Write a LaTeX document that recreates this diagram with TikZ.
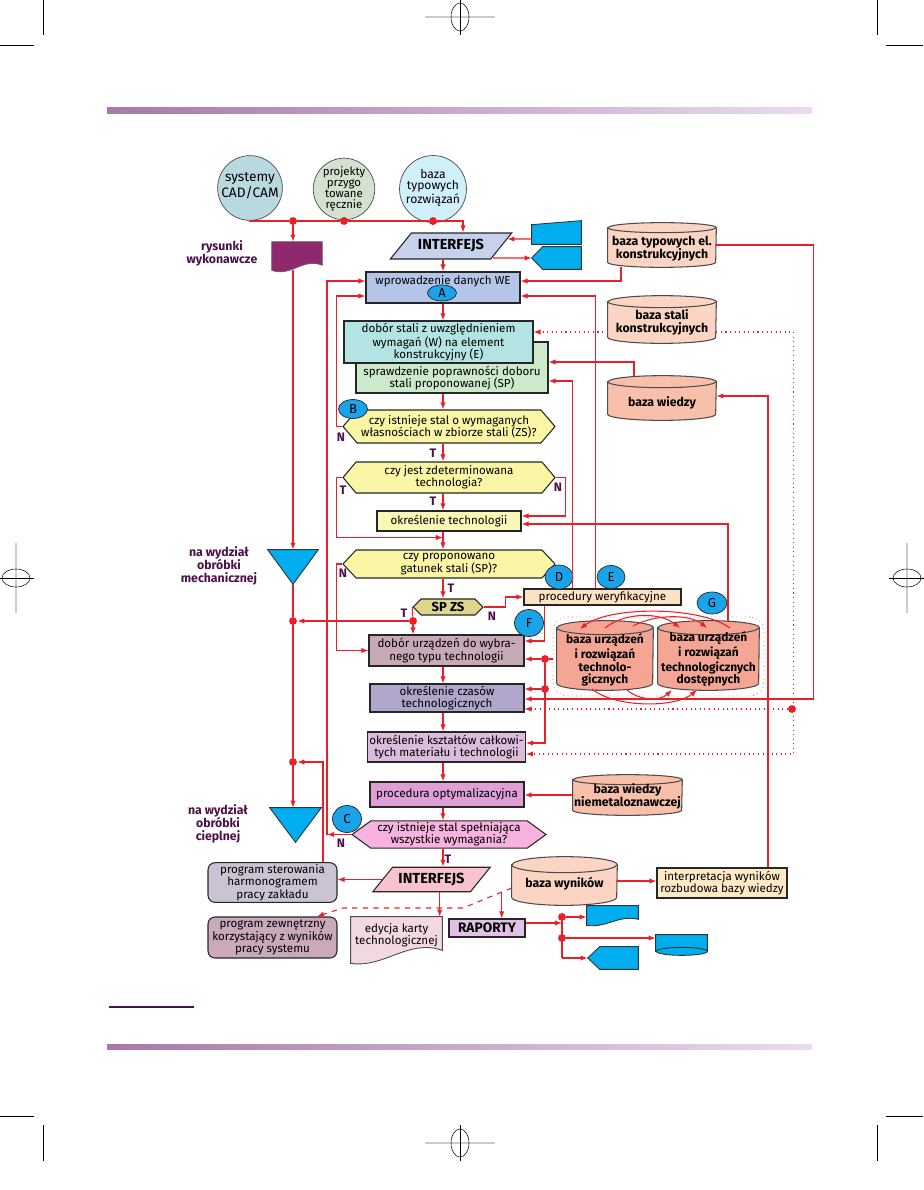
\documentclass[tikz,border=0pt]{standalone}
\usepackage{fontspec}
\setmainfont{Fira Sans}
\usetikzlibrary{shapes.geometric,shapes.symbols,arrows.meta,calc}

\definecolor{linered}{HTML}{E8202A}
\definecolor{labpurple}{HTML}{4B1048}
\definecolor{blueshape}{HTML}{00AEEF}
\definecolor{letterblue}{HTML}{1AA3E8}
\definecolor{cadfill}{HTML}{B9D9E1}
\definecolor{projfill}{HTML}{D2E2CE}
\definecolor{baztfill}{HTML}{CFEFF9}
\definecolor{intfill}{HTML}{C6D1EC}
\definecolor{wefill}{HTML}{B4C5E8}
\definecolor{dstfill}{HTML}{B3E4E3}
\definecolor{sprfill}{HTML}{CCE9CB}
\definecolor{yelfill}{HTML}{FBF6A6}
\definecolor{techfill}{HTML}{FBF7B5}
\definecolor{spzsfill}{HTML}{DCD68F}
\definecolor{procfill}{HTML}{FDE3C4}
\definecolor{urzfill}{HTML}{C8A9B8}
\definecolor{czasfill}{HTML}{B0A5CB}
\definecolor{kszfill}{HTML}{DBBDDB}
\definecolor{optfill}{HTML}{DE9ED6}
\definecolor{hexcfill}{HTML}{F8B2E0}
\definecolor{inttfill}{HTML}{F8C3CC}
\definecolor{sterfill}{HTML}{CBC2D3}
\definecolor{zewfill}{HTML}{C9A9BA}
\definecolor{edkfill}{HTML}{F2D8E2}
\definecolor{rapfill}{HTML}{E1C2E6}
\definecolor{interfill}{HTML}{FDE9C4}
\definecolor{dblight}{HTML}{FBD4C4}
\definecolor{dbmid}{HTML}{F8BFAB}
\definecolor{dbdark}{HTML}{F4A594}
\definecolor{rysfill}{HTML}{8F286C}
\definecolor{barleft}{HTML}{A878AA}
\definecolor{barright}{HTML}{EADCEE}

\newcommand{\txtfont}{\fontsize{6.6}{7}\selectfont}
\newcommand{\dbfont}{\fontsize{7}{7.4}\selectfont\bfseries}
\newcommand{\ynfont}{\fontsize{7}{8}\selectfont\bfseries}

\pgfdeclarelayer{background}
\pgfsetlayers{background,main}

% database drum behind a named node: node, fill, x radius, y radius
\newcommand{\drum}[4]{%
  \begin{pgfonlayer}{background}
    \draw[fill=#2, draw=black!70, line width=0.6pt] ($(#1.north west)+(0,#4)$) -- ($(#1.south west)+(0,-#4)$)
      arc[start angle=180, end angle=0, x radius=#3, y radius=#4] -- ($(#1.north east)+(0,#4)$)
      arc[start angle=0, end angle=-180, x radius=#3, y radius=#4] -- cycle;
    \draw[draw=black!70, line width=0.6pt] ($(#1.north west)+(0,#4)$) arc[start angle=180, end angle=0, x radius=#3, y radius=#4];
  \end{pgfonlayer}}

\tikzset{
  redline/.style={draw=linered, line width=0.6pt},
  arr/.style={redline, -{Latex[length=4pt,width=3pt]}},
  dotarr/.style={arr, dotted},
  dasharr/.style={arr, dashed},
  jdot/.style={circle, fill=linered, inner sep=0pt, minimum size=4.5pt},
  box/.style={rectangle, draw=black!85, line width=0.6pt, inner sep=1pt},
  rbox/.style={box, rounded corners=4pt},
  hexa/.style={signal, signal to=east and west, draw=black!85, line width=0.6pt, inner sep=1pt},
  para/.style={trapezium, trapezium stretches=true, draw=black!85, line width=0.6pt, font=\fontsize{8.3}{9}\selectfont\bfseries},
  db/.style={rectangle, inner sep=0pt, font=\dbfont, text depth=0.06cm},
  shapebox/.style={rectangle, inner sep=0pt},
  blueshp/.style={fill=blueshape, draw=black!80, line width=0.5pt},
  letter/.style={ellipse, draw=black!85, fill=letterblue, inner sep=0pt, font=\fontsize{7.4}{8}\selectfont},
  yn/.style={font=\ynfont, text=labpurple, inner sep=0pt},
  side/.style={font=\dbfont, text=labpurple},
  crop/.style={draw=black, line width=0.4pt},
}

\begin{document}
\begin{tikzpicture}[x=0.02cm, y=-0.02cm, font=\txtfont, every node/.append style={align=center}]
\useasboundingbox (0,0) rectangle (923,1190);

% page marks
\shade[left color=barleft, right color=barright] (107,107) rectangle (812,113);
\shade[left color=barleft, right color=barright] (107,1044) rectangle (812,1049);
\draw[labpurple, line width=0.8pt] (109,1007) -- (194,1007);
\draw[crop] (43.5,0) -- (43.5,35) (0,45) -- (34,45);
\draw[crop] (877,0) -- (877,35) (886,45) -- (923,45);
\draw[crop] (0,1116) -- (34,1116) (43.5,1125) -- (43.5,1161);
\draw[crop] (886,1116) -- (923,1116) (877,1125) -- (877,1161);
\foreach \cx/\cy in {460/17, 460/1143} {
  \draw[black!20, line width=1.5pt] (\cx-35,\cy) -- (\cx+35,\cy);
  \draw[crop, line width=0.3pt] (\cx,\cy-18) -- (\cx,\cy+18);
  \draw[crop, line width=0.3pt] (\cx,\cy) ellipse [x radius=9, y radius=14];
}
\foreach \cx/\cy in {16/578, 907/578} {
  \draw[black!20, line width=1.5pt] (\cx,\cy-35) -- (\cx,\cy+35);
  \draw[crop, line width=0.3pt] (\cx-18,\cy) -- (\cx+18,\cy);
  \draw[crop, line width=0.3pt] (\cx,\cy) ellipse [x radius=14, y radius=9];
}

% sources
\node[circle, draw=black!70, fill=cadfill, minimum size=1.24cm, inner sep=0pt, text depth=0.12cm, font=\fontsize{7.8}{8.6}\selectfont] (cad) at (250,188) {systemy\\CAD/CAM};
\node[circle, draw=black!70, fill=projfill, minimum size=1.2cm, inner sep=0pt, font=\fontsize{6.5}{6.3}\selectfont] (proj) at (344,189) {projekty\\przygo\\towane\\ręcznie};
\node[circle, draw=black!70, fill=baztfill, minimum size=1.2cm, inner sep=0pt, text depth=0.1cm, font=\fontsize{6.9}{6.4}\selectfont] (bazt) at (433,189) {baza\\typowych\\rozwiązań};

\node[jdot] (j1) at (293,221) {};
\node[jdot] (j2) at (344,221) {};
\node[jdot] (j3) at (433,221) {};

% interface and databases at the top
\node[para, trapezium left angle=50, trapezium right angle=130, fill=intfill,
      minimum width=2.44cm, minimum height=0.52cm] (intf) at (451,246) {INTERFEJS};
\node[shapebox, minimum width=0.98cm, minimum height=0.46cm] (man) at (556.5,232.5) {};
\node[shapebox, minimum width=0.98cm, minimum height=0.44cm] (disp) at (556.5,258) {};
\node[db, minimum width=2.16cm, minimum height=0.88cm, text height=0.6cm] (btyp) at (662,245) {baza typowych el.\\konstrukcyjnych};
\drum{btyp}{dblight}{54}{5}
\node[db, minimum width=2.16cm, minimum height=0.94cm, text height=0.58cm] (bstal) at (662,319.5) {baza stali\\konstrukcyjnych};
\drum{bstal}{dblight}{54}{6}
\node[db, minimum width=2.16cm, minimum height=0.88cm, text height=0.4cm] (bwied) at (662,398) {baza wiedzy};
\drum{bwied}{dbmid}{54}{6}

% main column
\node[box, fill=wefill, minimum width=3.08cm, minimum height=0.62cm, text height=0.2cm, text depth=0.34cm] (we) at (443,287.5) {wprowadzenie danych WE};
\node[box, fill=sprfill, minimum width=3.84cm, minimum height=1.02cm, text height=0.85cm] (spr) at (452,367.5) {sprawdzenie poprawności doboru\\stali proponowanej (SP)};
\node[box, fill=dstfill, minimum width=3.78cm, minimum height=0.84cm] (dst) at (438.5,342) {dobór stali z uwzględnieniem\\wymagań (W) na element\\konstrukcyjny (E)};
\node[hexa, fill=yelfill, signal pointer angle=99, minimum width=4.24cm, minimum height=0.66cm] (hexB) at (449,426.5) {czy istnieje stal o wymaganych\\własnościach w zbiorze stali (ZS)?};
\node[hexa, fill=yelfill, signal pointer angle=100, minimum width=4.24cm, minimum height=0.62cm] (hexJ) at (449,477.5) {czy jest zdeterminowana\\technologia?};
\node[box, fill=techfill, minimum width=2.88cm, minimum height=0.4cm] (tech) at (449,521) {określenie technologii};
\node[hexa, fill=yelfill, signal pointer angle=94, minimum width=4.24cm, minimum height=0.56cm] (hexP) at (449,564) {czy proponowano\\gatunek stali (SP)?};
\node[hexa, fill=spzsfill, signal pointer angle=90, minimum width=1.4cm, minimum height=0.32cm, font=\fontsize{7.4}{8}\selectfont\bfseries] (spzs) at (448,607) {SP ZS};
\node[box, fill=procfill, minimum width=3.14cm, minimum height=0.32cm] (proc) at (602.5,597) {procedury weryfikacyjne};
\node[box, fill=urzfill, minimum width=3.1cm, minimum height=0.62cm] (urz) at (446.5,650.5) {dobór urządzeń do wybra-\\nego typu technologii};
\node[box, fill=czasfill, minimum width=3.08cm, minimum height=0.56cm] (czas) at (447,698) {określenie czasów\\technologicznych};
\node[box, fill=kszfill, minimum width=3.1cm, minimum height=0.6cm] (ksz) at (446.5,747) {określenie kształtów całkowi-\\tych materiału i technologii};
\node[box, fill=optfill, minimum width=3.08cm, minimum height=0.5cm] (opt) at (447,794.5) {procedura optymalizacyjna};
\node[hexa, fill=hexcfill, signal pointer angle=72, minimum width=3.88cm, minimum height=0.54cm] (hexC) at (449,834.5) {czy istnieje stal spełniająca\\wszystkie wymagania?};
\node[para, trapezium left angle=51, trapezium right angle=129, fill=inttfill,
      minimum width=2.34cm, minimum height=0.42cm] (intf2) at (431.5,879.5) {INTERFEJS};

% technology databases
\node[draw=linered!80, dotted, rounded corners=8pt, minimum width=4.22cm, minimum height=1.58cm] (grp) at (658.5,656.5) {};
\node[db, minimum width=1.92cm, minimum height=1.38cm, text height=1.18cm, font=\fontsize{6.8}{7.1}\selectfont\bfseries] (cyl1) at (605,655.5) {baza urządzeń\\i rozwiązań\\technolo-\\gicznych};
\drum{cyl1}{dbdark}{48}{7}
\node[db, minimum width=2.02cm, minimum height=1.38cm, text height=1.18cm, font=\fontsize{6.8}{7.1}\selectfont\bfseries] (cyl2) at (708.5,655.5) {baza urządzeń\\i rozwiązań\\technologicznych\\dostępnych};
\drum{cyl2}{dbdark}{50.5}{7}
\node[db, minimum width=2.18cm, minimum height=0.8cm, text height=0.52cm] (niem) at (627.5,795) {baza wiedzy\\niemetaloznawczej};
\drum{niem}{dbmid}{54.5}{5}

% outputs
\node[rbox, fill=sterfill, minimum width=2.58cm, minimum height=0.78cm] (ster) at (272.5,882.5) {program sterowania\\harmonogramem\\pracy zakładu};
\node[rbox, fill=zewfill, minimum width=2.58cm, minimum height=0.82cm] (zew) at (272.5,937.5) {program zewnętrzny\\korzystający z wyników\\pracy systemu};
\node[shapebox, minimum width=1.82cm, minimum height=0.86cm] (edk) at (396.5,938.5) {};
\node[box, fill=rapfill, minimum width=1.52cm, minimum height=0.36cm, font=\fontsize{7.8}{8.4}\selectfont\bfseries] (rap) at (487,928) {RAPORTY};
\node[db, minimum width=2.1cm, minimum height=0.96cm, text height=0.32cm] (wyn) at (564.5,881) {baza wyników};
\drum{wyn}{dblight}{52.5}{8}
\node[box, fill=interfill, minimum width=2.6cm, minimum height=0.6cm] (interp) at (722,883) {interpretacja wyników\\rozbudowa bazy wiedzy};
\node[shapebox, minimum width=1.02cm, minimum height=0.32cm] (bdoc) at (612.5,914) {};
\node[shapebox, minimum width=1.02cm, minimum height=0.32cm] (bsto) at (681.5,943) {};
\node[shapebox, minimum width=1.0cm, minimum height=0.44cm] (bdisp) at (613,958) {};

% left side
\node[shapebox, minimum width=1.0cm, minimum height=0.56cm] (rys) at (297,256) {};
\node[shapebox, minimum width=1.0cm, minimum height=0.68cm] (tri1) at (293,567) {};
\node[shapebox, minimum width=1.02cm, minimum height=0.68cm] (tri2) at (295.5,825) {};
\node[side] (lrys) at (222,253) {rysunki\\wykonawcze};
\node[side] (lmech) at (219,566) {na wydział\\obróbki\\mechanicznej};
\node[side] (lciep) at (218,824) {na wydział\\obróbki\\cieplnej};

% drawn shapes
\draw[fill=rysfill, draw=black!60] (rys.north west) -- (rys.north east) -- ($(rys.south east)+(0,-5)$)
  .. controls ($(rys.south)+(6,-13)$) and ($(rys.south)+(-6,7)$) .. (rys.south west) -- cycle;
\draw[fill=edkfill, draw=black!70, line width=0.5pt] (edk.north west) -- (edk.north east) -- ($(edk.south east)+(0,-10)$)
  .. controls ($(edk.south)+(12,-22)$) and ($(edk.south)+(-12,8)$) .. ($(edk.south west)+(0,3)$) -- cycle;
\node (edkt) at ($(edk.center)+(0,-3)$) {edycja karty\\technologicznej};
\draw[blueshp] ($(man.north west)+(0,4)$) -- (man.north east) -- (man.south east) -- (man.south west) -- cycle;
\draw[blueshp] (disp.west) -- ($(disp.north west)+(11,0)$) -- (disp.north east) -- (disp.south east) -- ($(disp.south west)+(11,0)$) -- cycle;
\draw[blueshp] (bdoc.north west) -- (bdoc.north east) -- ($(bdoc.south east)+(0,-3)$)
  .. controls ($(bdoc.south)+(6,-8)$) and ($(bdoc.south)+(-6,6)$) .. ($(bdoc.south west)+(0,3)$) -- cycle;
\draw[blueshp] (bsto.south west) -- (bsto.north west) -- (bsto.north east) -- (bsto.south east)
  arc[start angle=0, end angle=180, x radius=25.5, y radius=4] -- cycle;
\draw[blueshp] (bsto.south east) arc[start angle=0, end angle=-180, x radius=25.5, y radius=4];
\draw[blueshp] (bdisp.west) -- ($(bdisp.north west)+(12,0)$) -- (bdisp.north east) -- (bdisp.south east) -- ($(bdisp.south west)+(12,0)$) -- cycle;
\draw[blueshp] (tri1.north west) -- (tri1.north east) -- (tri1.south) -- cycle;
\draw[blueshp] (tri2.north west) -- (tri2.north east) -- (tri2.south) -- cycle;

% letters
\node[letter, minimum width=0.58cm, minimum height=0.32cm] (lA) at (442,293) {A};
\node[letter, minimum width=0.58cm, minimum height=0.38cm] (lB) at (353,409) {B};
\node[letter, minimum width=0.58cm, minimum height=0.54cm] (lC) at (347,819) {C};
\node[letter, minimum width=0.56cm, minimum height=0.48cm] (lD) at (559,577) {D};
\node[letter, minimum width=0.56cm, minimum height=0.46cm] (lE) at (611,577) {E};
\node[letter, minimum width=0.58cm, minimum height=0.54cm] (lF) at (529,623) {F};
\node[letter, minimum width=0.6cm, minimum height=0.44cm] (lG) at (712,603) {G};

% yes / no
\node[yn] (nB) at (341,437) {N};
\node[yn] (tB) at (433,453) {T};
\node[yn] (tJl) at (343,490) {T};
\node[yn] (nJ) at (558,487) {N};
\node[yn] (tJ) at (433,501) {T};
\node[yn] (nP) at (343,573) {N};
\node[yn] (tP) at (451,588) {T};
\node[yn] (tS) at (404,613) {T};
\node[yn] (nS) at (492,616) {N};
\node[yn] (nC) at (341,843) {N};
\node[yn] (tC) at (448,859) {T};

% junctions
\coordinate (col) at (443,0);
\node[jdot] (d1) at (293,621) {};
\node[jdot] (d2) at (293,762) {};
\node[jdot] (d3) at (413,621) {};
\node[jdot] (g1) at (545,659) {};
\node[jdot] (g2) at (545,689) {};
\node[jdot] (dc) at (792,709) {};
\node[jdot] (r3) at (562,917) {};
\node[jdot] (r4) at (562,938) {};
\coordinate (cN) at (327,834.5);
\coordinate (r5) at (562,958);

% connectors: sources
\draw[redline] (cad.south) |- (j1);
\draw[redline] (j1) -- (j2) -- (j3);
\draw[redline] (proj.south) -- (j2);
\draw[redline] (bazt.south) -- (j3);
\draw[arr] (j3) -| ($(intf.north)+(12,0)$);
\draw[arr] (j1) -- (j1 |- rys.north);
\draw[arr] ($(rys.south)+(-4,0)$) -- (tri1.north);
\draw[redline] (tri1.south) -- (d1);
\draw[redline] (d1) -- (d2);
\draw[arr] (d2) -- (d2 |- tri2.north);
\draw[arr] ($(man.west)+(0,6.5)$) -- ($(intf.east)+(5.5,-7)$);
\draw[arr] ($(intf.east)+(-9,12)$) -- (disp.west);

% connectors: main column
\draw[arr] (col |- intf.south) -- (col |- we.north);
\draw[arr] (col |- we.south) -- (col |- dst.north);
\draw[arr] (col |- spr.south) -- (col |- hexB.north);
\draw[arr] (col |- hexB.south) -- (col |- hexJ.north);
\draw[arr] (col |- hexJ.south) -- (col |- tech.north);
\draw[arr] (col |- tech.south) -- (col |- hexP.north);
\draw[arr] (col |- hexP.south) -- (col |- spzs.north);
\draw[arr] (col |- urz.south) -- (col |- czas.north);
\draw[arr] (col |- czas.south) -- (col |- ksz.north);
\draw[arr] (col |- ksz.south) -- (col |- opt.north);
\draw[arr] (col |- opt.south) -- (col |- hexC.north);
\draw[arr] (col |- hexC.south) -- (col |- intf2.north);

% connectors: decisions
\draw[arr] (hexB.west) -- ++(-6,0) |- ($(we.west)+(0,8.5)$);
\draw[arr] (hexC.west) -- (cN);
\draw[arr] (cN) |- ($(we.west)+(0,-6.5)$);
\draw[arr] (hexJ.west) -- ++(-6,0) |- ($(col |- tech.south)+(0,6)$);
\draw[arr] (hexJ.east) -- ++(10,0) |- ($(tech.east)+(0,-5)$);
\draw[arr] (hexP.west) -- ++(-6,0) |- (urz.west);
\draw[redline] (spzs.west) -- (d3);
\draw[arr] (d3) -- (d1);
\draw[arr] (d3) -- (d3 |- urz.north);
\draw[arr] (spzs.east) -- ++(22,0) |- (proc.west);

% connectors: verification procedures
\draw[arr] ($(proc.north west)+(49,0)$) |- ($(spr.east)+(0,13.5)$);
\draw[arr] ($(proc.north west)+(72,0)$) |- ($(we.east)+(0,8.5)$);
\draw[arr] ($(proc.south west)+(21,0)$) |- ($(urz.east)+(0,-9.5)$);

% connectors: databases
\draw[arr] ($(btyp.south)+(-41,0)$) |- ($(we.east)+(0,-6.5)$);
\draw[arr] (btyp.east) -| ($(czas.east)+(289,1)$) -- ($(czas.east)+(0,1)$);
\draw[dotarr] ($(bstal.west)+(0,12.5)$) -- ($(dst.east |- bstal.west)+(0,12.5)$);
\draw[dotarr] ($(bstal.east)+(0,12.5)$) -| ($(ksz.east)+(268,7)$) -- ($(ksz.east)+(0,7)$);
\draw[dotarr] (dc) -- (czas.east |- dc);
\draw[arr] ($(bwied.north)+(-28,0)$) |- ($(spr.east)+(0,-5.5)$);
\draw[arr] ($(interp.north)+(46,0)$) |- ($(bwied.east)+(0,-2)$);
\draw[arr] ($(cyl2.north)+(19.5,0)$) |- ($(tech.east)+(0,3)$);
\draw[redline] (g1) -- (grp.west |- g1);
\draw[arr] (g1) -- (urz.east |- g1);
\draw[arr] (g2) -- (czas.east |- g2);
\draw[arr] (g1) |- ($(ksz.east)+(0,-4)$);
\draw[arr] (niem.west) -- (opt.east |- niem.west);

% arcs between the technology databases
\draw[arr] (730,628) .. controls (700,606) and (610,606) .. (580,629);
\draw[arr] (605,628) .. controls (625,612) and (660,612) .. (680,628);
\draw[arr] (633,626) .. controls (655,614) and (690,614) .. (707,628);
\draw[arr] (592,689) .. controls (615,708) and (675,708) .. (697,690);
\draw[arr] (627,690) .. controls (640,701) and (660,701) .. (672,690);

% connectors: outputs
\draw[arr] (intf2.west) -- (ster.east |- intf2.west);
\draw[arr] ($(ster.north)+(50.5,0)$) |- (d2);
\draw[arr] ($(intf2.south west)+(21,0)$) -- ($(intf2.south west |- edk.north)+(21,0)$);
\draw[arr] ($(intf2.south west)+(83,0)$) -- ($(intf2.south west |- rap.north)+(83,0)$);
\draw[dasharr] ($(wyn.west)+(0,7)$) -- (463,908) -- (343,908) -- ($(zew.north)+(44.5,0)$);
\draw[arr] (wyn.east) -- (interp.west |- wyn.east);
\draw[arr] ($(rap.east)+(0,-5)$) -- ($(r3 |- rap.east)+(0,-5)$);
\draw[redline] (r3) -- (r5);
\draw[arr] (r3) -- (bdoc.west |- r3);
\draw[arr] (r4) -- (bsto.west |- r4);
\draw[arr] (r5) -- (bdisp.west);
\end{tikzpicture}
\end{document}
